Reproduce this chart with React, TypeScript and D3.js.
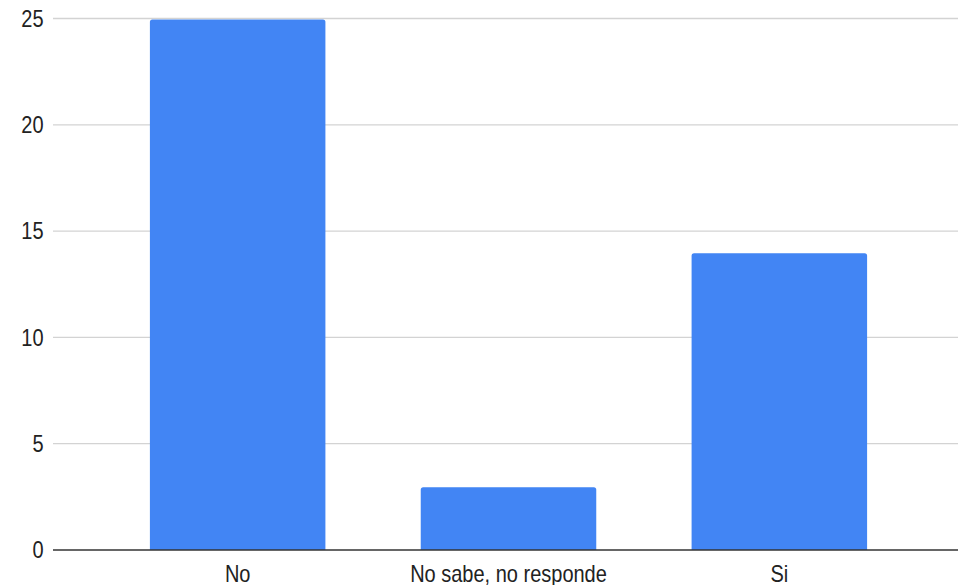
import React from "react";
import * as d3 from "d3";

const categories: string[] = ["No", "No sabe, no responde", "Si"];
const counts: number[] = [25, 3, 14];
const yTicks: number[] = [0, 5, 10, 15, 20, 25];

const WIDTH = 958;
const HEIGHT = 585;
const GRID_LEFT = 53;
const GRID_RIGHT = 958;
const FONT = "'Liberation Sans', Arial, sans-serif";
const TEXT_STRETCH = 1.2;

function topRoundedRect(x: number, y: number, w: number, h: number, r: number): string {
  const rr = Math.min(r, w / 2, h);
  return [
    `M${x},${y + h}`,
    `L${x},${y + rr}`,
    `Q${x},${y} ${x + rr},${y}`,
    `L${x + w - rr},${y}`,
    `Q${x + w},${y} ${x + w},${y + rr}`,
    `L${x + w},${y + h}`,
    "Z",
  ].join(" ");
}

export default function App() {
  const x = d3
    .scaleBand<string>()
    .domain(categories)
    .range([57, 960])
    .paddingInner(0.352)
    .paddingOuter(0.343);

  const y = d3.scaleLinear().domain([0, 25]).range([550, 18.5]);

  const data = categories.map((c, i) => ({ category: c, value: counts[i] }));

  return (
    <div style={{ position: "absolute", left: 0, top: 0 }}>
      <svg width={WIDTH} height={HEIGHT} style={{ display: "block", background: "#fff" }}>
        {/* horizontal gridlines */}
        {yTicks
          .filter((t) => t !== 0)
          .map((t) => (
            <line
              key={`g${t}`}
              x1={GRID_LEFT}
              x2={GRID_RIGHT}
              y1={y(t)}
              y2={y(t)}
              stroke="#d3d3d3"
              strokeWidth={1.3}
            />
          ))}

        {/* bars */}
        {data.map((d) => {
          const bx = x(d.category) ?? 0;
          const by = y(d.value) + 1;
          return (
            <path
              key={d.category}
              d={topRoundedRect(bx, by, x.bandwidth(), y(0) - by, 2.5)}
              fill="#4285f4"
            />
          );
        })}

        {/* baseline */}
        <line
          x1={GRID_LEFT}
          x2={GRID_RIGHT}
          y1={y(0)}
          y2={y(0)}
          stroke="#333333"
          strokeWidth={1.6}
        />

        {/* y-axis labels */}
        {yTicks.map((t) => (
          <text
            key={`y${t}`}
            transform={`translate(43.5,${y(t)}) scale(1,${TEXT_STRETCH})`}
            textAnchor="end"
            dominantBaseline="central"
            fontFamily={FONT}
            fontSize={20}
            fill="#222222"
          >
            {t}
          </text>
        ))}

        {/* x-axis labels */}
        {data.map((d) => (
          <text
            key={`x${d.category}`}
            transform={`translate(${(x(d.category) ?? 0) + x.bandwidth() / 2},581.5) scale(1,${TEXT_STRETCH})`}
            textAnchor="middle"
            fontFamily={FONT}
            fontSize={20}
            fill="#222222"
          >
            {d.category}
          </text>
        ))}
      </svg>
    </div>
  );
}
